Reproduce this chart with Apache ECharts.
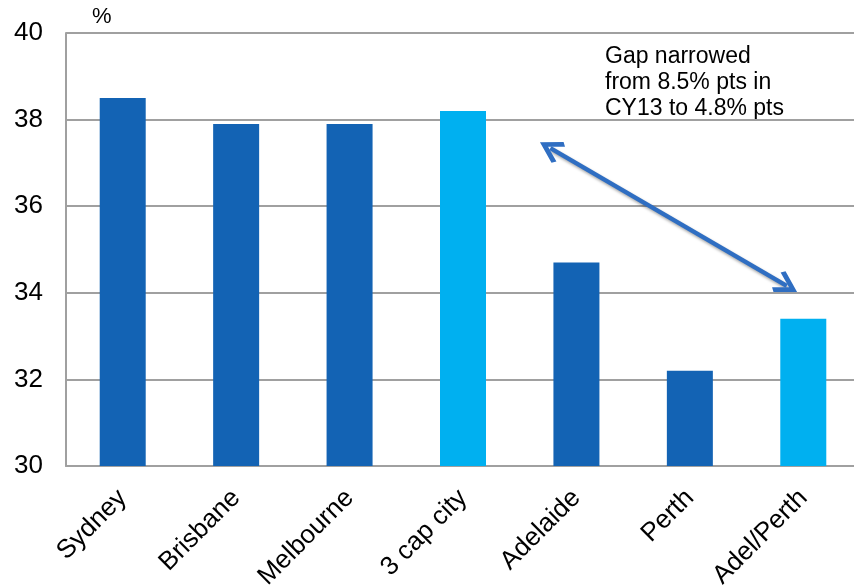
<!DOCTYPE html>
<html>
<head>
<meta charset="utf-8">
<script src="https://cdn.jsdelivr.net/npm/echarts@6/dist/echarts.min.js"></script>
<style>
  html, body { margin: 0; padding: 0; background: #fff; }
  #chart { width: 854px; height: 587px; }
</style>
</head>
<body>
<div id="chart"></div>
<script>
// Share of households (%) by capital city
const categories = ['Sydney', 'Brisbane', 'Melbourne', '3 cap city', 'Adelaide', 'Perth', 'Adel/Perth'];
const values = [38.5, 37.9, 37.9, 38.2, 34.7, 32.2, 33.4];
// aggregate columns are shown in the lighter shade
const isAggregate = [false, false, false, true, false, false, true];
const yTicks = { min: 30, max: 40, step: 2 };
// double-headed arrow between the two aggregates; x is measured on a
// continuous 0..7 scale laid over the categories (category i spans i..i+1)
const gapArrowX = [4.27, 6.354];
const gapArrowY = [37.34, 34.16];
const noteLines = ['Gap narrowed', 'from 8.5% pts in', 'CY13 to 4.8% pts'];

const DARK = '#1363b4';
const LIGHT = '#00b0f0';
const ARROW = '#2f6ec2';
const GRID = '#a0a0a0';
const FONT = 'Liberation Sans, Arial, sans-serif';

// open chevron head, pointing up in its own frame
const chevron = 'path://M12,0 L24,19.5 L20.5,23 L12,9 L3.5,23 L0,19.5 Z';

const chart = echarts.init(document.getElementById('chart'), null, { renderer: 'canvas' });

chart.setOption({
  animation: false,
  backgroundColor: '#fff',
  // the plot runs slightly past the right edge of the canvas
  grid: {
    left: 66, top: 33, width: 794, bottom: 121,
    containLabel: false,
    outerBoundsMode: 'none'
  },
  xAxis: [{
    type: 'category',
    data: categories,
    axisLine: { show: true, lineStyle: { color: GRID, width: 2 } },
    axisTick: { show: false },
    axisLabel: {
      rotate: 45,
      fontSize: 26,
      color: '#000',
      fontFamily: FONT,
      margin: 28,
      interval: 0
    }
  }, {
    type: 'value',
    min: 0,
    max: categories.length,
    show: false
  }],
  yAxis: {
    type: 'value',
    min: yTicks.min,
    max: yTicks.max,
    interval: yTicks.step,
    axisLine: { show: true, lineStyle: { color: GRID, width: 2 } },
    axisTick: { show: false },
    splitLine: { show: true, lineStyle: { color: GRID, width: 2 } },
    axisLabel: { fontSize: 26, color: '#000', fontFamily: FONT, margin: 23 }
  },
  series: [{
    type: 'bar',
    barWidth: 46,
    data: values.map((v, i) => ({
      value: v,
      itemStyle: { color: isAggregate[i] ? LIGHT : DARK }
    }))
  }, {
    type: 'line',
    xAxisIndex: 1,
    data: [],
    markLine: {
      silent: true,
      symbol: [chevron, chevron],
      symbolSize: [24, 24],
      label: { show: false },
      lineStyle: {
        color: ARROW,
        width: 4.5,
        type: 'solid',
        shadowColor: 'rgba(0,0,0,0.35)',
        shadowBlur: 3,
        shadowOffsetX: 1,
        shadowOffsetY: 2
      },
      itemStyle: { color: ARROW },
      emphasis: { disabled: true },
      data: [[
        { coord: [gapArrowX[0], gapArrowY[0]] },
        { coord: [gapArrowX[1], gapArrowY[1]] }
      ]]
    }
  }],
  graphic: [
    {
      type: 'text',
      left: 92,
      top: 6,
      style: { text: '%', font: '22px ' + FONT, fill: '#000' }
    },
    {
      type: 'text',
      left: 605,
      top: 44,
      style: {
        text: noteLines.join('\n'),
        font: '23px ' + FONT,
        lineHeight: 26,
        fill: '#000'
      }
    }
  ]
});
</script>
</body>
</html>
